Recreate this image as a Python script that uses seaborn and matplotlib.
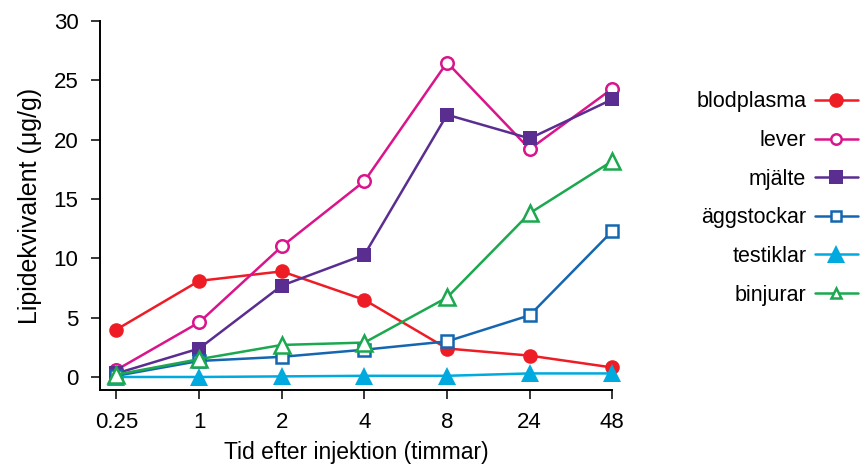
import matplotlib
matplotlib.use("Agg")
import matplotlib.pyplot as plt
import seaborn as sns
import pandas as pd

# Sampling times (hours after injection), shown as evenly spaced categories
times = ["0.25", "1", "2", "4", "8", "24", "48"]

blodplasma = [4.0, 8.1, 8.9, 6.5, 2.4, 1.8, 0.8]
lever = [0.6, 4.6, 11.0, 16.5, 26.5, 19.2, 24.3]
mjalte = [0.3, 2.4, 7.7, 10.3, 22.1, 20.1, 23.4]
aggstockar = [0.1, 1.35, 1.7, 2.3, 3.0, 5.2, 12.3]
testiklar = [0.0, 0.0, 0.05, 0.1, 0.1, 0.3, 0.3]
binjurar = [0.2, 1.5, 2.7, 2.9, 6.7, 13.8, 18.2]

series_names = ["blodplasma", "lever", "mjälte", "äggstockar", "testiklar", "binjurar"]
series_values = [blodplasma, lever, mjalte, aggstockar, testiklar, binjurar]
colors = ["#EE1D25", "#DA148B", "#5A2D91", "#1466B1", "#00AADF", "#1BA84F"]
markers = ["o", "o", "s", "s", "^", "^"]
filled = [True, False, True, False, True, False]
msizes = [10.5, 9.0, 10.5, 9.0, 12.5, 11.0]

sns.set_theme(style="ticks")
plt.rcParams["font.family"] = ["Liberation Sans", "DejaVu Sans"]
plt.rcParams.update({"text.color": "black", "axes.labelcolor": "black",
                     "xtick.color": "black", "ytick.color": "black"})

fig = plt.figure(figsize=(8.67, 4.66), dpi=100)
ax = fig.add_axes([0.1153, 0.163, 0.591, 0.792])

for name, vals, col, mk, fill, ms in zip(series_names, series_values, colors,
                                         markers, filled, msizes):
    df = pd.DataFrame({"tid": times, "värde": vals})
    sns.lineplot(
        data=df, x="tid", y="värde", ax=ax, color=col, marker=mk,
        markersize=ms, linewidth=1.8,
        markerfacecolor=col if fill else "white",
        markeredgecolor=col, markeredgewidth=0 if fill else 1.8,
        label=name, clip_on=False, sort=False,
    )

ax.set_xlim(-0.2, 6)
ax.set_ylim(-1.1, 30)
ax.set_yticks([0, 5, 10, 15, 20, 25, 30])
ax.set_xticks(range(len(times)))
ax.set_xticklabels(times)

sns.despine(ax=ax)
for side in ("left", "bottom"):
    ax.spines[side].set_linewidth(1.4)
    ax.spines[side].set_color("black")
ax.tick_params(axis="both", length=6.5, width=1.1, colors="black",
               labelcolor="black", labelsize=16)
ax.tick_params(axis="y", pad=9)
ax.tick_params(axis="x", pad=9)

ax.set_xlabel("Tid efter injektion (timmar)", fontsize=16.5, labelpad=6,
              color="black")
ax.set_ylabel("Lipidekvivalent (μg/g)", fontsize=18, labelpad=8,
              color="black")

leg = ax.legend(loc="center right", bbox_to_anchor=(1.002, 0.574),
                bbox_transform=fig.transFigure, frameon=False,
                markerfirst=False, fontsize=15.5, handlelength=2.0,
                labelspacing=0.82, handletextpad=0.4, borderpad=0)
for t in leg.get_texts():
    t.set_color("black")
# open markers are drawn a bit smaller in the key
for handle, fill in zip(leg.legend_handles, filled):
    if not fill:
        handle.set_markersize(7.5)

fig.savefig("out.png", dpi=100)
